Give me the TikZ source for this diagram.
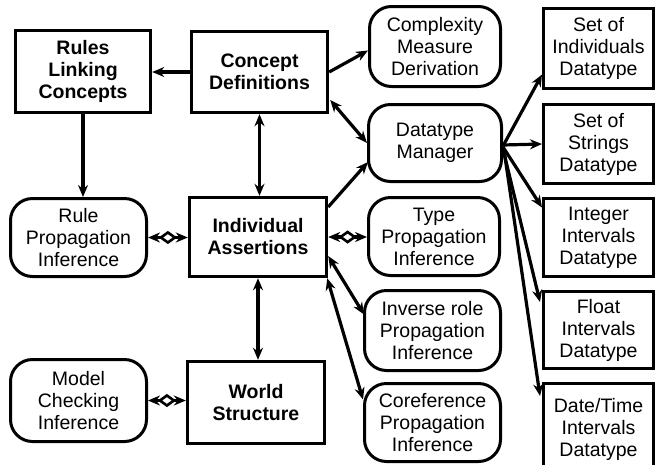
\documentclass[tikz,border=0pt]{standalone}
\usepackage{fontspec}
\setmainfont{Liberation Sans}
\usetikzlibrary{arrows.meta,calc,decorations.markings}
\begin{document}
\begin{tikzpicture}[x=1pt,y=-1pt,
  every node/.style={font=\fontsize{19.5}{22}\selectfont, align=center, inner sep=0pt},
  sq/.style={draw, line width=3.4pt, font=\bfseries\fontsize{19.5}{22}\selectfont},
  dt/.style={draw, line width=3pt},
  rd/.style={draw, line width=3pt, rounded corners=22pt},
  arr/.style={line width=3.2pt, -{Stealth[length=12pt,width=10pt]}},
  darr/.style={line width=3.2pt, {Stealth[length=12pt,width=10pt]}-{Stealth[length=12pt,width=10pt]}},
  dia/.style={darr, postaction={decorate}, decoration={markings, mark=at position 0.5 with {\draw[line width=2.6pt, fill=white] (-7,0)--(0,-5)--(7,0)--(0,5)--cycle;}}},
]
\useasboundingbox[fill=white] (0,0) rectangle (658,464);

% left / middle boxes
\node[sq, minimum width=135pt, minimum height=82pt] (rules) at (83,71.5) {Rules\\Linking\\Concepts};
\node[sq, minimum width=136pt, minimum height=81pt] (concept) at (259.5,72) {Concept\\Definitions};
\node[sq, minimum width=137pt, minimum height=79pt] (ia) at (258,237) {Individual\\Assertions};
\node[sq, minimum width=137pt, minimum height=82pt] (world) at (256,402.5) {World\\Structure};

\node[rd, minimum width=136pt, minimum height=78pt] (rprop) at (78.5,237.5) {Rule\\Propagation\\Inference};
\node[rd, minimum width=136pt, minimum height=82pt] (model) at (78.5,400.5) {Model\\Checking\\Inference};

% rounded middle-right column
\node[rd, minimum width=131pt, minimum height=80pt] (complexity) at (435,46.5) {Complexity\\Measure\\Derivation};
\node[rd, minimum width=133pt, minimum height=77pt] (dtm) at (435,143) {Datatype\\Manager};
\node[rd, minimum width=131pt, minimum height=78pt] (type) at (434,236.5) {Type\\Propagation\\Inference};
\node[rd, minimum width=136pt, minimum height=80pt] (inv) at (432.5,330.5) {Inverse role\\Propagation\\Inference};
\node[rd, minimum width=136pt, minimum height=78pt] (coref) at (432.5,422.5) {Coreference\\Propagation\\Inference};

% datatype column
\node[dt, minimum width=110pt, minimum height=80pt] (soi) at (598.5,48.5) {Set of\\Individuals\\Datatype};
\node[dt, minimum width=110pt, minimum height=79pt] (sos) at (598.5,144) {Set of\\Strings\\Datatype};
\node[dt, minimum width=110pt, minimum height=78pt] (int) at (598.5,237.5) {Integer\\Intervals\\Datatype};
\node[dt, minimum width=110pt, minimum height=77pt] (float) at (598.5,330) {Float\\Intervals\\Datatype};
\node[dt, minimum width=110pt, minimum height=94pt] (date) at (598.5,430) {\raisebox{9pt}{\begin{tabular}{@{}c@{}}Date/Time\\Intervals\\Datatype\end{tabular}}};

% connectors
\draw[arr] (concept.west) -- (concept.west -| rules.east);
\draw[arr] (rules.south) -- (rules.south |- rprop.north);
\draw[darr] (concept.south) -- (concept.south |- ia.north);
\draw[darr] (ia.south) -- (ia.south |- world.north);
\draw[dia] (rprop.east) -- (rprop.east -| ia.west);
\draw[dia] (model.east) -- (model.east -| world.west);
\draw[dia] (ia.east) -- (ia.east -| type.west);

\draw[arr] (concept.east) -- ($(complexity.west)+(0,4)$);
\draw[darr] ($(concept.east)+(1,28)$) -- (dtm.west);
\draw[arr] ($(ia.east)+(0,-30)$) -- ($(dtm.west)+(1,19)$);

\draw[arr] ($(dtm.east)+(0,3)$) -- ($(soi.west)+(0,26)$);
\draw[arr] ($(dtm.east)+(0,2)$) -- (sos.west);
\draw[arr] ($(dtm.east)+(0,4)$) -- ($(int.west)+(0,-30)$);
\draw[arr] ($(dtm.east)+(0,6)$) -- ($(float.west)+(-2,-28)$);
\draw[arr] ($(dtm.east)+(1,7)$) -- ($(date.west)+(-2,-34)$);

\draw[darr] ($(ia.east)+(0,19)$) -- ($(inv.west)+(1,-16)$);
\draw[darr] ($(ia.south east)+(-1,0)$) -- ($(coref.west)+(0,-23)$);
\end{tikzpicture}
\end{document}
